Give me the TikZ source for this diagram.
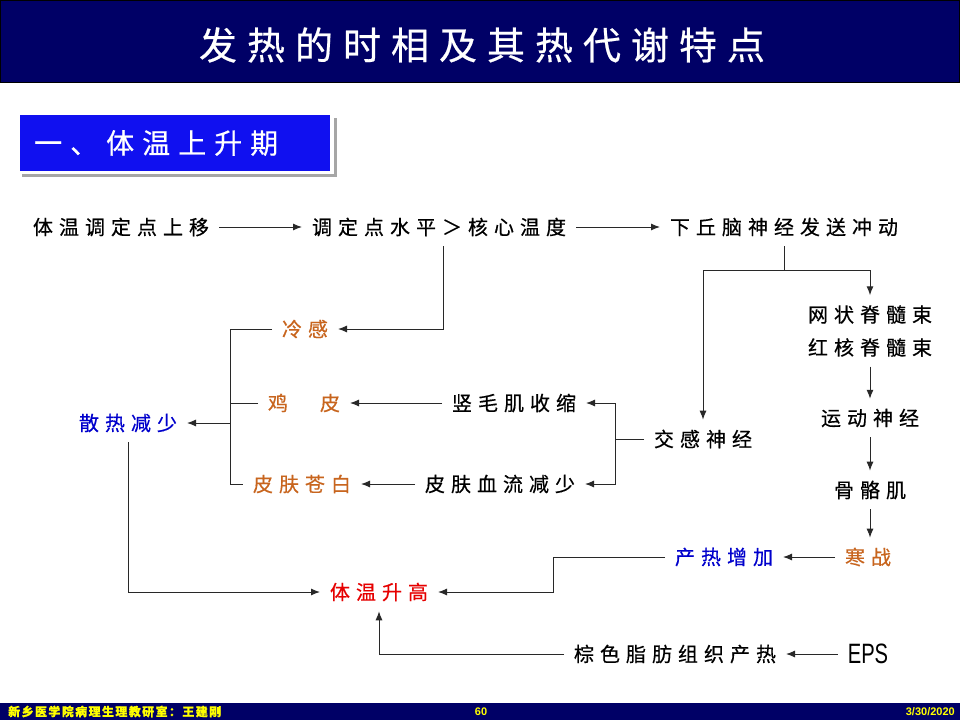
\documentclass[tikz,border=0pt]{standalone}
\usepackage{fontspec}
\usepackage{graphicx}
\setmainfont{Liberation Sans}
\newfontfamily\cjk[FakeBold=0.5]{Noto Sans CJK SC}
\usetikzlibrary{arrows.meta}
\makeatletter
\newcommand\spc[2]{\def\spc@gap{#1}\spc@first#2\relax}
\def\spc@first#1{\ifx#1\relax\else#1\expandafter\spc@rest\fi}
\def\spc@rest#1{\ifx#1\relax\else\hskip\spc@gap\relax#1\expandafter\spc@rest\fi}
\makeatother
\newcommand\sx[1]{\spc{6pt}{#1}}
\definecolor{navy}{RGB}{0,0,102}
\definecolor{subblue}{RGB}{16,16,240}
\definecolor{orn}{RGB}{200,101,30}
\definecolor{blu}{RGB}{0,0,204}
\definecolor{rd}{RGB}{230,0,0}
\definecolor{ylw}{RGB}{255,255,0}
\definecolor{lin}{RGB}{40,40,40}
\begin{document}
\begin{tikzpicture}[x=1pt,y=-1pt,
  txt/.style={inner sep=0pt, outer sep=10pt, font={\cjk\fontsize{20}{33}\selectfont}},
  epsnode/.style={inner sep=0pt, outer sep=10pt, font={\fontsize{28}{30}\selectfont}},
  conn/.style={draw=lin, line width=1pt},
  arr/.style={conn, -{Latex[length=9pt,width=7pt]}}]
\useasboundingbox (0,0) rectangle (960,720);
% title bar
\fill[white] (0,0) rectangle (960,720);
\filldraw[fill=navy, draw=black, line width=1pt] (0.5,0.5) rectangle (959.5,82);
\node[inner sep=0pt, text=white, font={\cjk\fontsize{38}{40}\selectfont}] (title) at (482,45) {\spc{10pt}{发热的时相及其热代谢特点}};
% subtitle box
\fill[black!35] (22,118) rectangle (337,177);
\fill[white] (15,110) rectangle (334,174);
\fill[subblue] (20,115) rectangle (330,171);
\node[inner sep=0pt, anchor=west, text=white, font={\cjk\fontsize{28}{30}\selectfont}] (sub) at (34,143) {\spc{8pt}{一、体温上升期}};
% footer
\fill[navy] (0,703) rectangle (960,720);
\node[inner sep=0pt, anchor=west, text=ylw, font={\cjk\bfseries\fontsize{12}{13}\selectfont}] (foot1) at (8,711.5) {\spc{1.4pt}{新乡医学院病理生理教研室：王建刚}};
\node[inner sep=0pt, text=ylw, font={\bfseries\fontsize{11}{12}\selectfont}] (foot2) at (481,711.5) {60};
\node[inner sep=0pt, anchor=east, text=ylw, font={\bfseries\fontsize{11}{12}\selectfont}] (foot3) at (955,711.5) {3/30/2020};
% nodes
\node[txt] (n1) at (121,227) {\sx{体温调定点上移}};
\node[txt] (n2) at (439,227) {\sx{调定点水平＞核心温度}};
\node[txt] (n3) at (784,227) {\sx{下丘脑神经发送冲动}};
\node[txt, align=center] (wang) at (870,331) {\sx{网状脊髓束}\\\sx{红核脊髓束}};
\node[txt] (yd) at (870,418) {\sx{运动神经}};
\node[txt] (gg) at (870,490) {\sx{骨骼肌}};
\node[txt, text=orn] (hz) at (868,557) {\sx{寒战}};
\node[txt, text=blu] (cr) at (724,557) {\sx{产热增加}};
\node[txt, text=rd] (tw) at (379,592) {\sx{体温升高}};
\node[txt] (zs) at (675,654) {\sx{棕色脂肪组织产热}};
\node[epsnode] (eps) at (868,654) {\scalebox{0.72}[1]{EPS}};
\node[txt] (jg) at (703,439) {\sx{交感神经}};
\node[txt] (sm) at (514,403) {\sx{竖毛肌收缩}};
\node[txt] (xl) at (500,484) {\sx{皮肤血流减少}};
\node[txt, text=orn] (jp) at (304,403) {\sx{鸡　皮}};
\node[txt, text=orn] (pf) at (302,484) {\sx{皮肤苍白}};
\node[txt, text=orn] (lg) at (305,329) {\sx{冷感}};
\node[txt, text=blu] (sr) at (128,423) {\sx{散热减少}};
% coordinates
\coordinate (b1) at (784,270);
\coordinate (bt) at (230,329);
\coordinate (bb) at (230,484);
\coordinate (bm) at (230,423);
\coordinate (jv) at (615,439);
\coordinate (k) at (553,557);
% connectors
\draw[arr] (n1.east) -- (n2.west);
\draw[arr] (n2.east) -- (n3.west);
\draw[conn] (n3.south) -- (b1);
\draw[arr] (b1) -| (jg.north);
\draw[arr] (b1) -| (wang.north);
\draw[arr] (wang.south) -- (yd.north);
\draw[arr] (yd.south) -- (gg.north);
\draw[arr] (gg.south) -- (gg.south |- hz.north);
\draw[arr] (hz.west) -- (cr.east);
\draw[arr] (cr.west) -- (k) |- (tw.east);
\draw[arr] (zs.west) -| (tw.south);
\draw[arr] (eps.west) -- (zs.east);
\draw[arr] ([xshift=4pt]n2.south) |- (lg.east);
\draw[conn] (lg.west) -- (bt) -- (bb) -- (pf.west);
\draw[conn] (jp.west) -- (jp.west -| bt);
\draw[arr] (bm) -- (sr.east);
\draw[arr] (sr.south) |- (tw.west);
\draw[conn] (jg.west) -- (jv);
\draw[arr] (jv) |- (sm.east);
\draw[arr] (jv) |- (xl.east);
\draw[arr] (sm.west) -- (jp.east);
\draw[arr] (xl.west) -- (pf.east);
\end{tikzpicture}
\end{document}
